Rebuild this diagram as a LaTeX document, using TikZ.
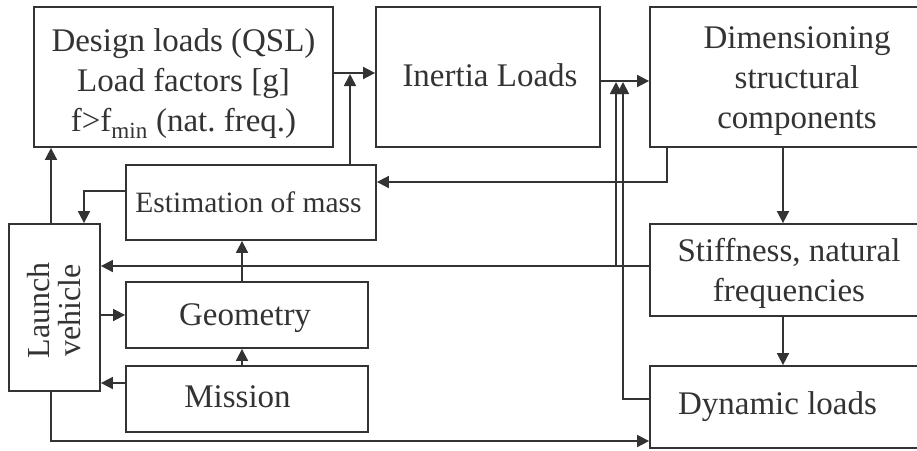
\documentclass[tikz,border=0pt]{standalone}
\usepackage{fontspec}
\setmainfont{Liberation Serif}
\usetikzlibrary{arrows.meta,calc}

\definecolor{ink}{HTML}{333333}

\tikzset{
  box/.style={draw=ink, line width=1.8pt, rectangle, inner sep=0pt},
  txt/.style={inner sep=0pt, align=center, text=ink,
              font=\fontsize{33}{40}\selectfont},
  smalltxt/.style={txt, font=\fontsize{29.5}{36}\selectfont},
  arr/.style={draw=ink, line width=1.7pt,
              -{Triangle[length=12pt,width=12pt]}},
}

\begin{document}
\begin{tikzpicture}[x=1pt,y=-1pt]
\useasboundingbox (0,0) rectangle (917,450);
\clip (0,0) rectangle (917,450);

% blocks
\node[box, minimum width=299pt, minimum height=140pt] (design) at (183.5,77) {};
\node[box, minimum width=224pt, minimum height=140pt] (inertia) at (488,77) {};
\node[box, minimum width=285pt, minimum height=140pt] (dim) at (792.5,77) {};
\node[box, minimum width=250pt, minimum height=75pt] (est) at (251,202.5) {};
\node[box, minimum width=91pt, minimum height=167pt] (lv) at (54.5,307.5) {};
\node[box, minimum width=242pt, minimum height=66pt] (geo) at (247,315) {};
\node[box, minimum width=242pt, minimum height=66pt] (mis) at (247,399) {};
\node[box, minimum width=285pt, minimum height=92pt] (stiff) at (792.5,270) {};
\node[box, minimum width=285pt, minimum height=82pt] (dyn) at (792.5,407) {};

% block texts
\node[txt] (designt) at ($(design.center)+(0,7)$)
  {Design loads (QSL)\\Load factors [g]\\f>f\textsubscript{min} (nat.\ freq.)};
\node[txt] (inertiat) at ($(inertia.center)+(2,-2)$) {Inertia Loads};
\node[txt] (dimt) at ($(dim.center)+(4.5,4)$)
  {Dimensioning\\structural\\components};
\node[smalltxt] (estt) at ($(est.center)+(-2.5,0)$) {Estimation of mass};
\node[txt, font=\fontsize{32}{31}\selectfont, rotate=90] (lvt)
  at ($(lv.center)+(0,3)$) {Launch\\vehicle};
\node[txt] (geot) at ($(geo.center)+(-2,3)$) {Geometry};
\node[txt] (mist) at ($(mis.center)+(-9.5,-2)$) {Mission};
\node[txt] (stifft) at ($(stiff.center)+(-3.5,3)$)
  {Stiffness, natural\\frequencies};
\node[txt] (dynt) at ($(dyn.center)+(-15,0)$) {Dynamic loads};

% routing levels and columns
\coordinate (yA) at (0,73);
\coordinate (yB) at (0,81);
\coordinate (yC) at (0,266);
\coordinate (yD) at (0,399);
\coordinate (yE) at (0,182);
\coordinate (yF) at (0,191);
\coordinate (yG) at (0,441);
\coordinate (yM) at (0,383);
\coordinate (xE) at (350,0);
\coordinate (xF) at (616,0);
\coordinate (xG) at (623,0);
\coordinate (xH) at (667,0);
\coordinate (xI) at (783,0);
\coordinate (xJ) at (84,0);
\coordinate (xK) at (51,0);
\coordinate (xL) at (242,0);

% connectors
\draw[arr] (design.east |- yA) -- (inertia.west |- yA);
\draw[arr] (est.north -| xE) -- ($(xE |- yA)+(0,1)$);
\draw[arr] (inertia.east |- yB) -- (dim.west |- yB);
\draw[arr] (stiff.west |- yC) -- (lv.east |- yC);
\draw[arr] (xF |- yC) -- ($(xF |- yB)+(0,1)$);
\draw[arr] (dyn.west |- yD) -- (xG |- yD) -- ($(xG |- yB)+(0,1)$);
\draw[arr] (dim.south -| xH) |- (est.east |- yE);
\draw[arr] (dim.south -| xI) -- (stiff.north -| xI);
\draw[arr] (stiff.south -| xI) -- (dyn.north -| xI);
\draw[arr] (est.west |- yF) -| (lv.north -| xJ);
\draw[arr] (lv.north -| xK) -- (design.south -| xK);
\draw[arr] (lv.east |- geo.west) -- (geo.west);
\draw[arr] (mis.west |- yM) -- (lv.east |- yM);
\draw[arr] (mis.north -| xL) -- (geo.south -| xL);
\draw[arr] (geo.north -| xL) -- (est.south -| xL);
\draw[arr] (lv.south -| xK) |- (dyn.west |- yG);
\end{tikzpicture}
\end{document}
